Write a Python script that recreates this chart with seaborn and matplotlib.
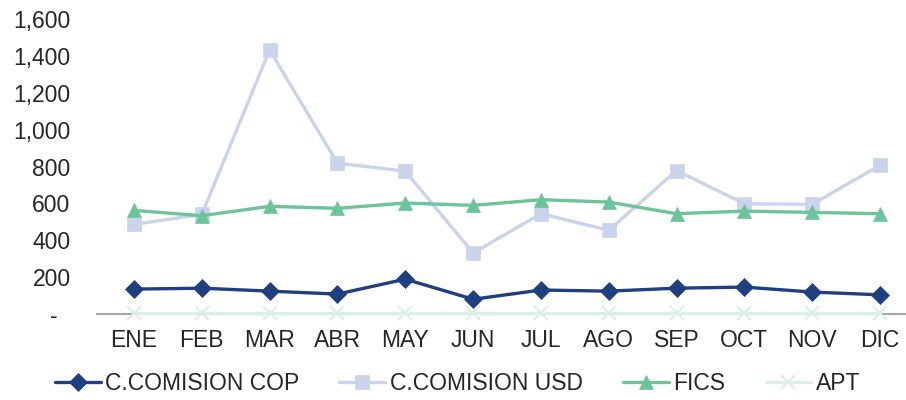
import matplotlib
matplotlib.use("Agg")
import matplotlib.pyplot as plt
import pandas as pd
import seaborn as sns
from matplotlib.ticker import FuncFormatter


months = ["ENE", "FEB", "MAR", "ABR", "MAY", "JUN", "JUL", "AGO", "SEP", "OCT", "NOV", "DIC"]
comision_cop = [135, 140, 124, 108, 189, 80, 130, 124, 140, 146, 119, 104]
comision_usd = [486, 540, 1432, 818, 775, 331, 544, 454, 778, 598, 595, 807]
fics = [562, 533, 584, 573, 602, 589, 620, 607, 544, 558, 551, 544]
apt = [3, 3, 3, 3, 3, 3, 3, 3, 3, 3, 3, 3]
y_ticks = [0, 200, 400, 600, 800, 1000, 1200, 1400, 1600]

series = {
    "C.COMISION COP": comision_cop,
    "C.COMISION USD": comision_usd,
    "FICS": fics,
    "APT": apt,
}
styles = {
    "C.COMISION COP": dict(color="#1F3F80", marker="D", markersize=9, zorder=5),
    "C.COMISION USD": dict(color="#C9D4EA", marker="s", markersize=10, zorder=3),
    "FICS": dict(color="#6CC49A", marker="^", markersize=10, zorder=4),
    "APT": dict(color="#DCEFE4", marker="x", markersize=10, zorder=2),
}

df = pd.DataFrame(
    [(m, name, v) for name, vals in series.items() for m, v in zip(months, vals)],
    columns=["mes", "serie", "valor"],
)

sns.set_theme(style="white")
plt.rcParams["font.family"] = ["Liberation Sans", "DejaVu Sans"]
text_color = "#262626"

fig = plt.figure(figsize=(9.06, 4.0), dpi=100)
ax = fig.add_axes([97 / 906, 0.215, (914 - 97) / 906, 0.7375])

for name in series:
    st = styles[name]
    sub = df[df["serie"] == name]
    sns.lineplot(
        data=sub, x="mes", y="valor", ax=ax, color=st["color"], linewidth=2.4,
        marker=st["marker"], markersize=st["markersize"], markeredgecolor=st["color"],
        markeredgewidth=1.5 if st["marker"] == "x" else 0.5, label=name, zorder=st["zorder"],
        clip_on=False,
    )

ax.set_xlim(-0.545, 11.5)
ax.set_ylim(0, 1600)
ax.set_yticks(y_ticks)
ax.yaxis.set_major_formatter(FuncFormatter(lambda v, p: "-  " if v == 0 else f"{int(v):,}"))
ax.set_xlabel("")
ax.set_ylabel("")
for side in ["top", "right", "left"]:
    ax.spines[side].set_visible(False)
ax.spines["bottom"].set_color("#A6A6A6")
ax.spines["bottom"].set_linewidth(1.5)
ax.spines["bottom"].set_zorder(1)
ax.tick_params(axis="x", length=0, pad=11, labelsize=16.5, labelcolor=text_color)
ax.tick_params(axis="y", length=0, pad=19, labelsize=16.5, labelcolor=text_color)
ax.grid(False)

handles, labels = ax.get_legend_handles_labels()
ax.legend(
    handles, labels, loc="center", bbox_to_anchor=(0.505, 0.04), bbox_transform=fig.transFigure,
    ncol=4, frameon=False, fontsize=16.5, handlelength=2.0, handletextpad=0.2,
    columnspacing=1.75, labelcolor=text_color,
)

fig.savefig("out.png", dpi=100)
